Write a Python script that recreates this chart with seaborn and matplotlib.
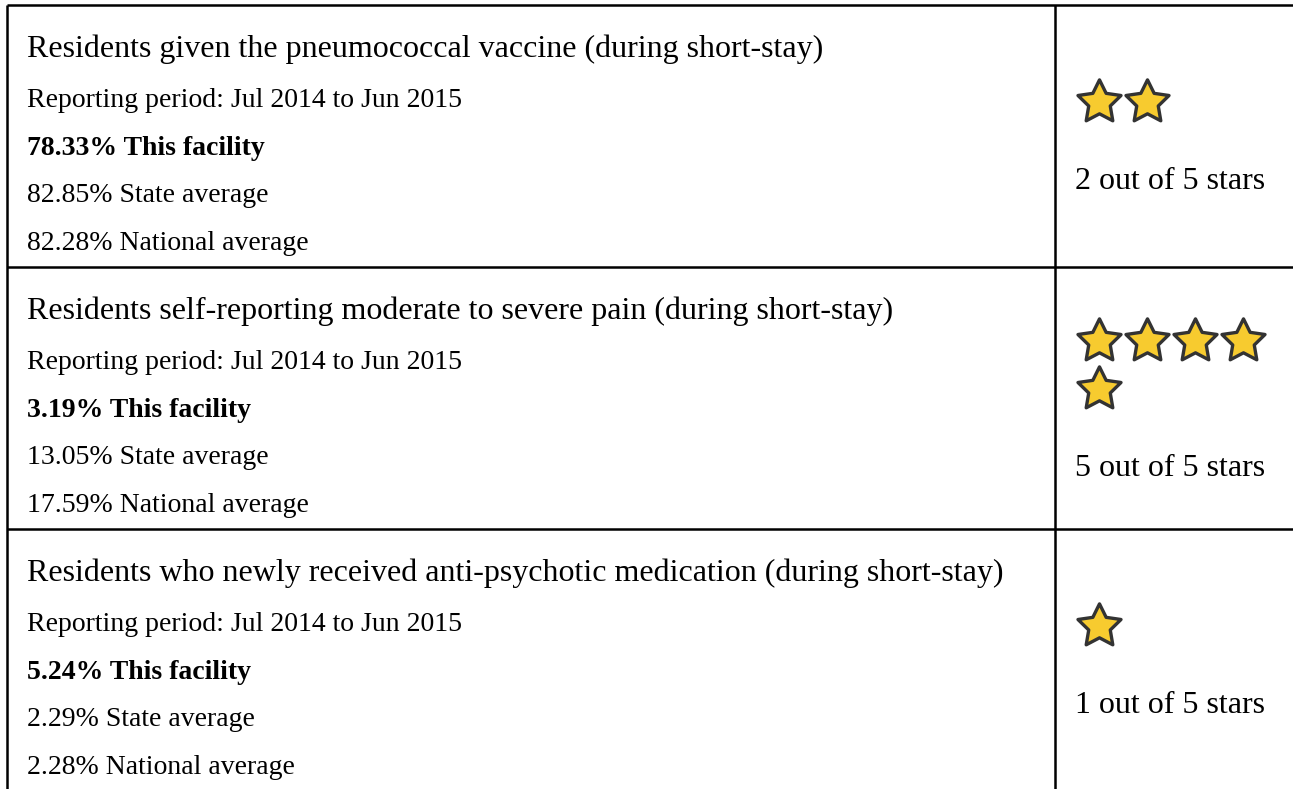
import matplotlib
matplotlib.use('Agg')
import matplotlib.pyplot as plt
import seaborn as sns
import pandas as pd

# Quality measures (short-stay residents)
measures = [
    'Residents given the pneumococcal vaccine (during short-stay)',
    'Residents self-reporting moderate to severe pain (during short-stay)',
    'Residents who newly received anti-psychotic medication (during short-stay)',
]
periods = ['Jul 2014 to Jun 2015', 'Jul 2014 to Jun 2015', 'Jul 2014 to Jun 2015']
facility = [78.33, 3.19, 5.24]
state_avg = [82.85, 13.05, 2.29]
national_avg = [82.28, 17.59, 2.28]
stars = [2, 5, 1]

sns.set_theme(style='white')
plt.rcParams['font.family'] = ['Liberation Serif', 'DejaVu Serif']

W, H = 1293, 789
fig = plt.figure(figsize=(W / 100, H / 100), dpi=100)
ax = fig.add_axes([0, 0, 1, 1])

# layout in pixels
row_h = 262
top = 5
left = 7
divider = 1055
text_x = 27
star_x0 = 1099
star_step = 48
per_line = 4

# table grid
ax.hlines([top + row_h * i for i in range(len(measures))], left, W, color='black', lw=1.8)
ax.vlines([left, divider], top, H, color='black', lw=1.8)

# star positions built from the star counts
rows = []
for r, n in enumerate(stars):
    lines = (n - 1) // per_line + 1
    y_first = top + row_h * r + 97 - 23.5 * (lines - 1)
    for i in range(n):
        rows.append({'x': star_x0 + (i % per_line) * star_step,
                     'y': y_first + (i // per_line) * 48,
                     'row': r})
    ax.text(divider + 20, y_first + 48 * (lines - 1) + 87, f'{n} out of 5 stars',
            fontsize=23, va='baseline', ha='left', color='black')
star_df = pd.DataFrame(rows)

sns.scatterplot(data=star_df, x='x', y='y', ax=ax, marker=(5, 1, 0), s=1063,
                color='#F7CB2F', edgecolor='#333333', linewidth=2.4, zorder=3,
                legend=False)
ax.collections[-1].set_joinstyle('round')

ax.set_xlim(0, W)
ax.set_ylim(H, 0)
ax.axis('off')

# left column texts
for r in range(len(measures)):
    y0 = top + row_h * r
    ax.text(text_x, y0 + 52, measures[r], fontsize=23, va='baseline', color='black')
    ax.text(text_x, y0 + 102, f'Reporting period: {periods[r]}', fontsize=20,
            va='baseline', color='black')
    ax.text(text_x, y0 + 150, f'{facility[r]:.2f}% This facility', fontsize=20,
            fontweight='bold', va='baseline', color='black')
    ax.text(text_x, y0 + 197, f'{state_avg[r]:.2f}% State average', fontsize=20,
            va='baseline', color='black')
    ax.text(text_x, y0 + 245, f'{national_avg[r]:.2f}% National average', fontsize=20,
            va='baseline', color='black')

fig.savefig('out.png', dpi=100)
